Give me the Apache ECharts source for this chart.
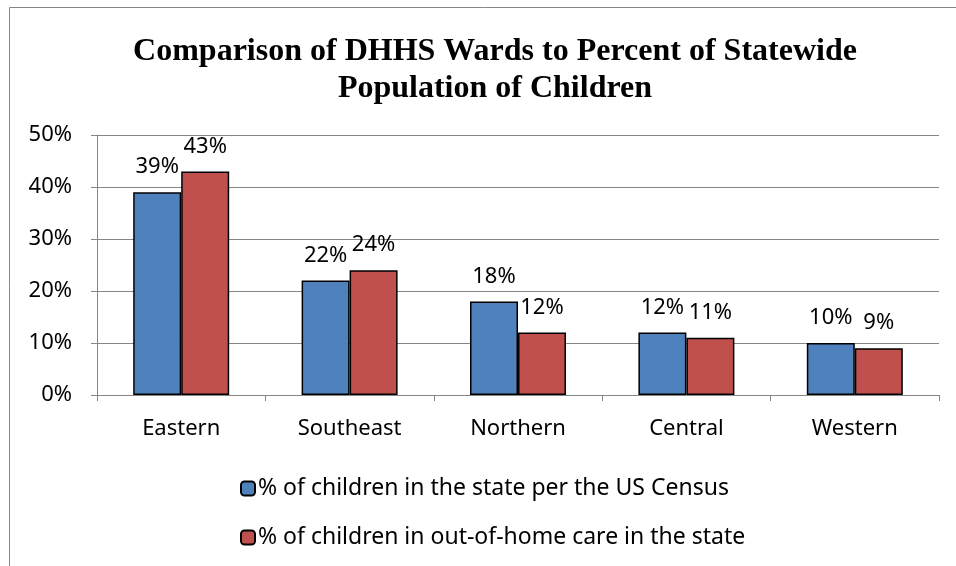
<!DOCTYPE html>
<html><head><meta charset="utf-8">
<script src="https://cdn.jsdelivr.net/npm/echarts@6/dist/echarts.min.js"></script>
<style>html,body{margin:0;padding:0;background:#fff}#c{width:956px;height:566px}</style>
</head><body><div id="c"></div>
<script>
const categories = ['Eastern', 'Southeast', 'Northern', 'Central', 'Western'];
const censusValues = [39, 22, 18, 12, 10];
const careValues = [43, 24, 12, 11, 9];
const seriesNames = ['% of children in the state per the US Census', '% of children in out-of-home care in the state'];
const titleText = 'Comparison of DHHS Wards to Percent of Statewide\nPopulation of Children';

const font = '"Noto Sans", sans-serif';
const chart = echarts.init(document.getElementById('c'), null, {renderer: 'canvas'});
chart.setOption({
  animation: false,
  backgroundColor: '#fff',
  graphic: [{type: 'rect', shape: {x: 9.5, y: 7.5, width: 960, height: 570}, style: {fill: 'none', stroke: '#868686', lineWidth: 1}, silent: true}],
  title: {
    text: titleText, left: 490, textAlign: 'center', top: 28,
    textStyle: {fontFamily: '"Liberation Serif", serif', fontWeight: 'bold', fontSize: 32, lineHeight: 37, color: '#000'}
  },
  grid: {left: 97, right: 17, top: 135, bottom: 171, containLabel: false},
  xAxis: {
    type: 'category', data: categories,
    axisLine: {lineStyle: {color: '#868686', width: 1}},
    axisTick: {show: true, length: 6, lineStyle: {color: '#868686'}},
    axisLabel: {fontFamily: font, fontSize: 22, color: '#000', margin: 23}
  },
  yAxis: {
    type: 'value', min: 0, max: 50, interval: 10,
    axisLine: {show: true, lineStyle: {color: '#868686'}},
    axisTick: {show: true, length: 6, lineStyle: {color: '#868686'}},
    splitLine: {lineStyle: {color: '#868686', width: 1}},
    axisLabel: {formatter: '{value}%', fontFamily: font, fontSize: 22, color: '#000', margin: 25}
  },
  legend: {
    orient: 'vertical', left: 235, top: 472, itemGap: 26,
    itemWidth: 14, itemHeight: 14,
    textStyle: {fontFamily: font, fontSize: 23, color: '#000', padding: [0, 0, 0, -2]},
    data: seriesNames
  },
  series: [
    {
      name: seriesNames[0], type: 'bar', data: censusValues, barGap: '0%', barCategoryGap: '43%',
      itemStyle: {color: '#4F81BD', borderColor: '#000', borderWidth: 1.5},
      label: {show: true, position: 'top', formatter: '{c}%', fontFamily: font, fontSize: 22, color: '#000', distance: 14}
    },
    {
      name: seriesNames[1], type: 'bar', data: careValues,
      itemStyle: {color: '#C0504D', borderColor: '#000', borderWidth: 1.5},
      label: {show: true, position: 'top', formatter: '{c}%', fontFamily: font, fontSize: 22, color: '#000', distance: 14}
    }
  ]
});
</script></body></html>
